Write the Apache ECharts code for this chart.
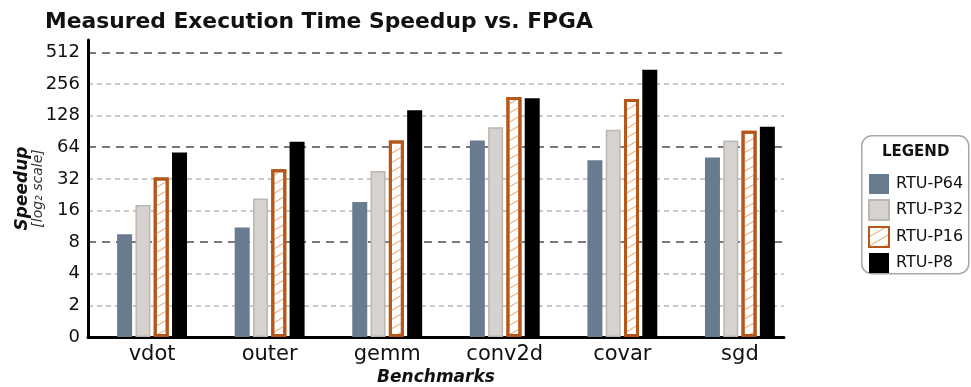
<!DOCTYPE html>
<html>
<head>
<meta charset="utf-8">
<script src="https://cdn.jsdelivr.net/npm/echarts@6/dist/echarts.min.js"></script>
<style>html,body{margin:0;padding:0;background:#fff}#c{width:971px;height:387px}</style>
</head>
<body>
<div id="c"></div>
<script>
const categories = ['vdot', 'outer', 'gemm', 'conv2d', 'covar', 'sgd'];
const seriesNames = ['RTU-P64', 'RTU-P32', 'RTU-P16', 'RTU-P8'];
const p64 = [9.5, 11, 19.3, 74, 48, 51];
const p32 = [18, 20.8, 38, 99, 94, 74];
const p16 = [33, 39.6, 74, 192, 184, 92];
const p8 = [57, 72, 144, 187, 350, 100];
const yTickExponents = [0, 1, 2, 3, 4, 5, 6, 7, 8, 9];

const FONT = 'DejaVu Sans';
const toData = arr => arr.map((v, i) => [i, Math.log2(v)]);
const isInt = v => Math.abs(v - Math.round(v)) < 1e-6;

const MINOR = '#b8b8b8', MAJOR = '#7a7a7a', T = 'rgba(0,0,0,0)';
const minorColors = [T, MINOR, MINOR, T, MINOR, MINOR, T, MINOR, MINOR, T, T];
const majorColors = [T, MAJOR, MAJOR, MAJOR, T];

const styles = [
  { color: '#687b8f', borderColor: '#687b8f', borderWidth: 0 },
  { color: '#d6d2cf', borderColor: '#bcb7b1', borderWidth: 1.5 },
  { color: '#ffffff', borderColor: '#b5561b', borderWidth: 3,
    decal: { symbol: 'rect', symbolSize: 1, dashArrayX: [1, 0], dashArrayY: [1, 7], rotation: -Math.PI / 6, color: '#eaa877' } },
  { color: '#000000', borderColor: '#000000', borderWidth: 0 }
];
const values = [p64, p32, p16, p8];

const chart = echarts.init(document.getElementById('c'), null, { renderer: 'canvas' });
chart.setOption({
  animation: false,
  aria: { enabled: false },
  title: {
    text: 'Measured Execution Time Speedup vs. FPGA',
    left: 40, top: 6,
    textStyle: { fontFamily: FONT, fontWeight: 'bold', fontSize: 21.8, color: '#111' }
  },
  graphic: [
    { type: 'rect', left: 861, top: 135, z: 0,
      shape: { width: 107, height: 138, r: 10 },
      style: { fill: '#fff', stroke: '#a8a8a8', lineWidth: 1.5 } },
    { type: 'text', left: 882, top: 145, z: 1,
      style: { text: 'LEGEND', font: 'bold 15px "DejaVu Sans"', fill: '#111' } }
  ],
  legend: {
    orient: 'vertical', left: 868, top: 174, padding: 0,
    itemWidth: 20, itemHeight: 20, itemGap: 5, icon: 'rect',
    textStyle: { fontFamily: FONT, fontSize: 16, lineHeight: 20, color: '#111', padding: [0, 0, 0, 2] },
    data: seriesNames
  },
  grid: { left: 88, right: 187, top: 40, bottom: 50, containLabel: false, outerBoundsMode: 'none' },
  xAxis: {
    type: 'value', min: -0.545, max: 5.375, interval: 0.005,
    axisLine: { show: true, onZero: false, lineStyle: { color: '#000', width: 3 } },
    axisTick: { show: false },
    splitLine: { show: false },
    axisLabel: {
      fontFamily: FONT, fontSize: 21, color: '#111', margin: 7, showMinLabel: true, showMaxLabel: true,
      formatter: v => (isInt(v) && Math.round(v) >= 0 && Math.round(v) < categories.length) ? categories[Math.round(v)] : ''
    },
    name: 'Benchmarks', nameLocation: 'middle', nameGap: 32, nameMoveOverlap: false,
    nameTextStyle: { fontFamily: FONT, fontWeight: 'bold', fontStyle: 'italic', fontSize: 17, color: '#111' }
  },
  yAxis: [
    {
      type: 'value', min: 0, max: 9.39, interval: 1,
      axisLine: { show: true, onZero: false, lineStyle: { color: '#000', width: 3 } },
      axisTick: { show: false },
      axisLabel: {
        fontFamily: FONT, fontSize: 18, color: '#111', margin: 8,
        formatter: v => (isInt(v) && yTickExponents.includes(Math.round(v))) ? (Math.round(v) === 0 ? '0' : String(Math.pow(2, Math.round(v)))) : ''
      },
      splitLine: { show: true, lineStyle: { color: minorColors, width: 1.5, type: [5, 4] } },
      name: '{a|Speedup}\n{b|[log₂ scale]}', nameLocation: 'middle', nameGap: 42, nameRotate: 90, nameMoveOverlap: false,
      nameTextStyle: {
        rich: {
          a: { fontFamily: FONT, fontWeight: 'bold', fontStyle: 'italic', fontSize: 17, color: '#111', lineHeight: 17, align: 'center' },
          b: { fontFamily: FONT, fontStyle: 'italic', fontSize: 14, color: '#333', lineHeight: 15, align: 'center' }
        }
      }
    },
    {
      type: 'value', min: 0, max: 9.39, interval: 3, position: 'left',
      axisLine: { show: false, onZero: false }, axisTick: { show: false }, axisLabel: { show: false },
      splitLine: { show: true, lineStyle: { color: majorColors, width: 2, type: [8, 6] } }
    }
  ],
  series: seriesNames.map((name, k) => ({
    name, type: 'bar', xAxisIndex: 0, yAxisIndex: 0,
    barWidth: 15, barGap: '22%',
    itemStyle: styles[k],
    data: toData(values[k])
  }))
});
</script>
</body>
</html>
